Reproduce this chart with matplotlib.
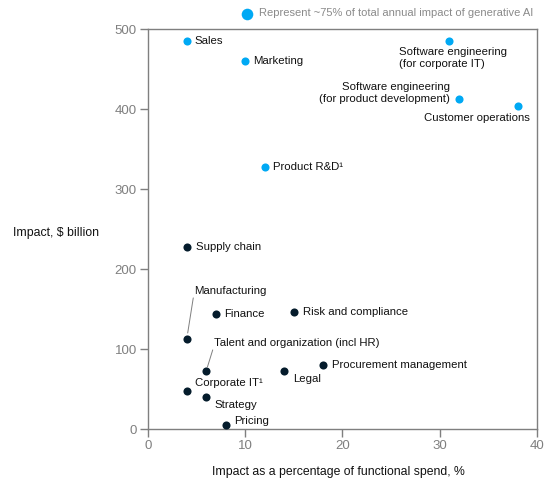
import matplotlib.pyplot as plt

plt.rcParams['font.family'] = ['Liberation Sans', 'DejaVu Sans']

# functions, % of functional spend, $ billion
blue_names = ["Sales", "Marketing", "Software engineering\n(for corporate IT)",
              "Software engineering\n(for product development)", "Customer operations",
              "Product R&D\u00b9"]
blue_x = [4, 10, 31, 32, 38, 12]
blue_y = [485, 461, 485, 413, 404, 328]

dark_names = ["Supply chain", "Manufacturing", "Finance", "Risk and compliance",
              "Talent and organization (incl HR)", "Legal", "Procurement management",
              "Corporate IT\u00b9", "Strategy", "Pricing"]
dark_x = [4, 4, 7, 15, 6, 14, 18, 4, 6, 8]
dark_y = [228, 113, 144, 147, 73, 73, 80, 48, 41, 5]

BLUE = "#00A9F4"
DARK = "#051C2C"
GRAY = "#7f7f7f"

# label placement in pixels (dx, dy up), alignments
px = 0.72
blue_lab = [((8, 0), 'left', 'center'),
            ((8, 0), 'left', 'center'),
            ((-50, -6), 'left', 'top'),
            ((-9, 6), 'right', 'center'),
            ((12, -12), 'right', 'center'),
            ((8, 0), 'left', 'center')]
dark_lab = [((9, 0), 'left', 'center'),
            ((7, 48), 'left', 'center'),
            ((8, 0), 'left', 'center'),
            ((9, 0), 'left', 'center'),
            ((8, 28), 'left', 'center'),
            ((9, -8), 'left', 'center'),
            ((9, 0), 'left', 'center'),
            ((8, 8), 'left', 'center'),
            ((8, -8), 'left', 'center'),
            ((8, 4), 'left', 'center')]

fig = plt.figure(figsize=(5.6, 4.92), dpi=100)
ax = fig.add_axes([0.264, 0.1274, 0.695, 0.8130])

ax.scatter(dark_x, dark_y, s=34, color=DARK, zorder=3, linewidths=0)
ax.scatter(blue_x, blue_y, s=34, color=BLUE, zorder=3, linewidths=0)

for names, xs, ys, labs in [(blue_names, blue_x, blue_y, blue_lab),
                            (dark_names, dark_x, dark_y, dark_lab)]:
    for n, x, y, ((dx, dy), ha, va) in zip(names, xs, ys, labs):
        ax.annotate(n, (x, y), xytext=(dx * px, dy * px), textcoords='offset points',
                    ha=ha, va=va, fontsize=8.2, color="#111111", linespacing=1.15)

# leader lines for manufacturing and talent (end offset in px, gap at dot in px)
for idx, (ex, ey, gap) in [(1, (6.5, 41, 6)), (4, (6.5, 21, 4))]:
    ax.annotate("", xy=(dark_x[idx], dark_y[idx]), xycoords='data',
                xytext=(ex * px, ey * px), textcoords='offset points',
                arrowprops=dict(arrowstyle='-', color=GRAY, lw=0.7,
                                shrinkA=0, shrinkB=gap * px))

ax.set_xlim(0, 40)
ax.set_ylim(0, 500)
ax.set_xticks([0, 10, 20, 30, 40])
ax.set_yticks([0, 100, 200, 300, 400, 500])
for s in ax.spines.values():
    s.set_color(GRAY)
    s.set_linewidth(1.0)
ax.tick_params(direction='out', length=6, width=1, color=GRAY, labelcolor=GRAY,
               labelsize=9.5, pad=2)

fig.text(13 / 560, 1 - 233 / 492, "Impact, \\$ billion", fontsize=8.8, color="#111111",
         ha='left', va='center')
fig.text(338 / 560, 1 - 472 / 492, "Impact as a percentage of functional spend, %",
         fontsize=8.8, color="#111111", ha='center', va='center')

# legend
lax = fig.add_axes([0, 0, 1, 1], facecolor='none')
lax.set_xlim(0, 560)
lax.set_ylim(492, 0)
lax.axis('off')
lax.scatter([247], [13.5], s=70, color=BLUE, linewidths=0)
lax.text(259, 13.5, "Represent ~75% of total annual impact of generative AI", fontsize=8.05,
         color="#8a8a8a", ha='left', va='center')

fig.savefig("out.png", dpi=100)
